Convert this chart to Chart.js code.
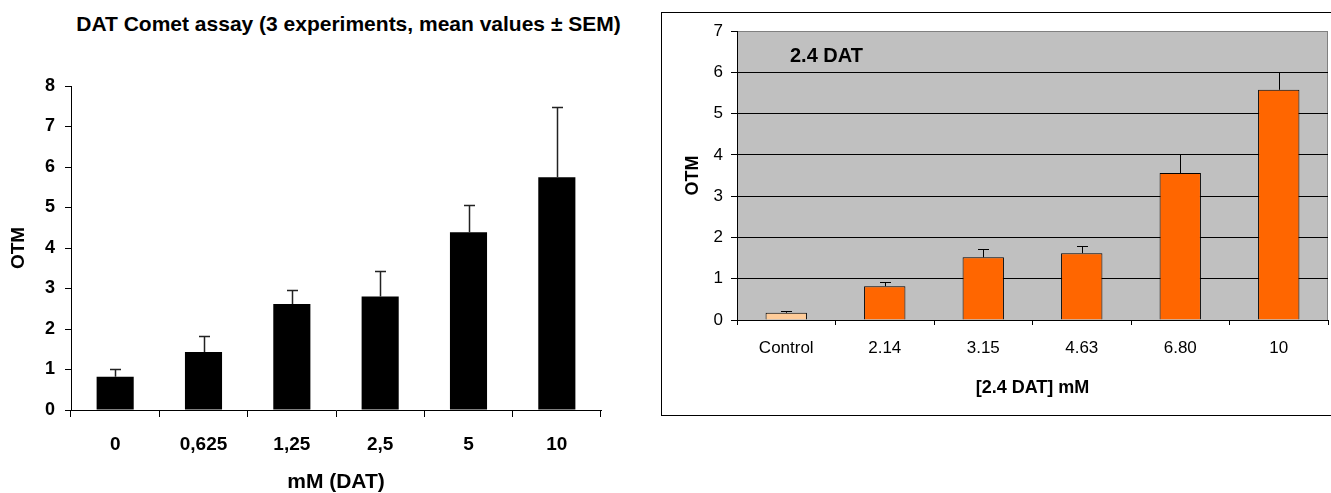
<!DOCTYPE html>
<html>
<head>
<meta charset="utf-8">
<script src="https://cdn.jsdelivr.net/npm/chart.js@4/dist/chart.umd.min.js"></script>
<style>
  body { margin: 0; background: #fff; width: 1331px; height: 493px; overflow: hidden; position: relative; }
  #leftTitle {
    position: absolute; left: 48px; width: 601px; top: 12px; text-align: center;
    font: bold 21px "Liberation Sans", Arial, sans-serif; color: #000; white-space: nowrap;
  }
  #left { position: absolute; left: 0; top: 0; }
  #frame { position: absolute; left: 661px; top: 12px; width: 680px; height: 402px; border: 1px solid #000; }
  #right { position: absolute; left: 662px; top: 13px; }
</style>
</head>
<body>
<div id="leftTitle">DAT Comet assay (3 experiments, mean values ± SEM)</div>
<canvas id="left" width="650" height="493"></canvas>
<div id="frame"></div>
<canvas id="right" width="669" height="402"></canvas>
<script>
// left chart: DAT comet assay
var datLabels = ['0', '0,625', '1,25', '2,5', '5', '10'];
var datMeans = [0.82, 1.43, 2.62, 2.80, 4.39, 5.75];
var datSem = [0.20, 0.40, 0.34, 0.63, 0.67, 1.73];

// right chart: 2.4 DAT
var dat24Labels = ['Control', '2.14', '3.15', '4.63', '6.80', '10'];
var dat24Means = [0.175, 0.82, 1.52, 1.62, 3.56, 5.58];
var dat24Sem = [0.055, 0.10, 0.21, 0.18, 0.47, 0.42];

var FONT = '"Liberation Sans", Arial, sans-serif';
Chart.defaults.font.family = FONT;
Chart.defaults.color = '#000';

// upper error bars only, with a small cap
var errorBars = {
  id: 'errorBars',
  afterDatasetsDraw: function (chart, args, opts) {
    var ctx = chart.ctx;
    var meta = chart.getDatasetMeta(0);
    var yScale = chart.scales.y;
    var values = chart.data.datasets[0].data;
    ctx.save();
    ctx.strokeStyle = opts.color || '#000';
    ctx.lineWidth = opts.width || 1;
    meta.data.forEach(function (bar, i) {
      var x = Math.round(bar.x) + 0.5;
      var y0 = yScale.getPixelForValue(values[i]);
      var y1 = Math.round(yScale.getPixelForValue(values[i] + opts.errors[i])) + 0.5;
      ctx.beginPath();
      ctx.moveTo(x, y0);
      ctx.lineTo(x, y1);
      ctx.moveTo(x - 5.5, y1);
      ctx.lineTo(x + 5.5, y1);
      ctx.stroke();
    });
    ctx.restore();
  }
};

// grey plot area of the right chart, plus its inner label
var plotArea = {
  id: 'plotArea',
  beforeDraw: function (chart, args, opts) {
    var a = chart.chartArea;
    var ctx = chart.ctx;
    ctx.save();
    ctx.fillStyle = opts.background;
    ctx.fillRect(a.left, a.top, a.right - a.left, a.bottom - a.top);
    ctx.strokeStyle = '#808080';
    ctx.lineWidth = 1;
    ctx.beginPath();
    ctx.moveTo(Math.round(a.right) - 0.5, a.top);
    ctx.lineTo(Math.round(a.right) - 0.5, a.bottom);
    ctx.stroke();
    ctx.restore();
  },
  afterDatasetsDraw: function (chart, args, opts) {
    var a = chart.chartArea;
    var ctx = chart.ctx;
    ctx.save();
    ctx.font = 'bold 20px ' + FONT;
    ctx.fillStyle = '#000';
    ctx.textBaseline = 'middle';
    ctx.fillText(opts.label, a.left + 53, a.top + 25);
    ctx.restore();
  }
};

new Chart(document.getElementById('left'), {
  type: 'bar',
  data: {
    labels: datLabels,
    datasets: [{
      data: datMeans,
      backgroundColor: '#000',
      borderWidth: 0,
      categoryPercentage: 1,
      barPercentage: 0.42
    }]
  },
  options: {
    responsive: false,
    animation: false,
    layout: { padding: { top: 86, right: 49, bottom: 0, left: 0 } },
    plugins: {
      legend: { display: false },
      tooltip: { enabled: false },
      errorBars: { errors: datSem, color: '#222', width: 1.5 }
    },
    scales: {
      x: {
        grid: { drawOnChartArea: false, tickLength: 7, color: '#000' },
        border: { color: '#000' },
        ticks: { font: { size: 19, weight: 'bold' }, padding: 16, maxRotation: 0 },
        title: { display: true, text: 'mM (DAT)', font: { size: 21, weight: 'bold', lineHeight: 1 }, padding: { top: 0, bottom: 0 } },
        afterFit: function (s) { s.height = 83; }
      },
      y: {
        min: 0, max: 8,
        grid: { drawOnChartArea: false, tickLength: 6, color: '#000' },
        border: { color: '#000' },
        ticks: { stepSize: 1, font: { size: 18, weight: 'bold' }, padding: 10 },
        title: { display: true, text: 'OTM', font: { size: 19, weight: 'bold', lineHeight: 1 }, padding: { top: 9, bottom: 0 } },
        afterFit: function (s) { s.width = 71; }
      }
    }
  },
  plugins: [errorBars]
});

new Chart(document.getElementById('right'), {
  type: 'bar',
  data: {
    labels: dat24Labels,
    datasets: [{
      data: dat24Means,
      backgroundColor: ['#FFCC99', '#FF6600', '#FF6600', '#FF6600', '#FF6600', '#FF6600'],
      borderColor: '#000',
      borderWidth: 1,
      categoryPercentage: 1,
      barPercentage: 0.42
    }]
  },
  options: {
    responsive: false,
    animation: false,
    layout: { padding: { top: 15, right: 3, bottom: 0, left: 0 } },
    plugins: {
      legend: { display: false },
      tooltip: { enabled: false },
      errorBars: { errors: dat24Sem, color: '#000', width: 1 },
      plotArea: { background: '#C0C0C0', label: '2.4 DAT' }
    },
    scales: {
      x: {
        grid: { drawOnChartArea: false, tickLength: 5, color: '#000' },
        border: { color: '#000' },
        ticks: { font: { size: 17 }, padding: 13, maxRotation: 0 },
        title: { display: true, text: '[2.4 DAT] mM', font: { size: 18, weight: 'bold', lineHeight: 1 }, padding: { top: 0, bottom: 18 } },
        afterFit: function (s) { s.height = 95; }
      },
      y: {
        min: 0, max: 7,
        grid: {
          tickLength: 6,
          tickColor: '#000',
          color: function (c) { return c.tick && c.tick.value === 7 ? '#808080' : '#000'; }
        },
        border: { color: '#000' },
        ticks: { stepSize: 1, font: { size: 17 }, padding: 8 },
        title: { display: true, text: 'OTM', font: { size: 18, weight: 'bold', lineHeight: 1 }, padding: { top: 22, bottom: 0 } },
        afterFit: function (s) { s.width = 75; }
      }
    }
  },
  plugins: [errorBars, plotArea]
});
</script>
</body>
</html>
